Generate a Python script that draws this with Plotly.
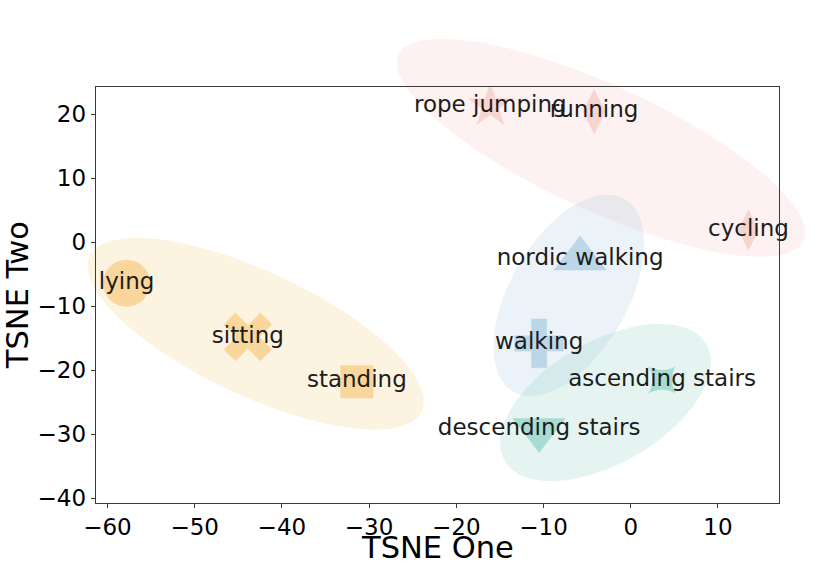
import numpy as np
import plotly.graph_objects as go

# t-SNE embedding of the activity classes
activities = ['lying', 'sitting', 'standing', 'rope jumping', 'running', 'cycling',
              'nordic walking', 'walking', 'ascending stairs', 'descending stairs']
tsne_one = [-57.8, -43.9, -31.4, -16.1, -4.2, 13.5, -5.8, -10.5, 3.6, -10.5]
tsne_two = [-6.4, -14.8, -21.8, 21.3, 20.4, 1.9, -2.6, -15.8, -21.5, -29.3]
activity_group = ['static', 'static', 'static', 'intense', 'intense', 'intense',
                  'walk', 'walk', 'stairs', 'stairs']

# cluster outlines: centre, semi axes and rotation, in data units
groups = ['static', 'intense', 'walk', 'stairs']
ell_cx = [-43.0, -3.4, -7.1, -2.9]
ell_cy = [-14.3, 14.75, -8.3, -25.05]
ell_a = [22.7, 27.5, 16.5, 15.0]
ell_b = [9.0, 9.1, 7.1, 8.5]
ell_angle = [-35.1, -33.7, 70.7, 45.9]

x_ticks = [-60, -50, -40, -30, -20, -10, 0, 10]
y_ticks = [-40, -30, -20, -10, 0, 10, 20]

group_rgb = {
    'static': (248, 202, 126),
    'intense': (245, 200, 193),
    'walk': (168, 202, 224),
    'stairs': (143, 209, 196),
}
symbols = ['circle', 'x', 'square', 'star', 'diamond-tall', 'diamond-tall',
           'triangle-up', 'cross', 'star-square', 'triangle-down']
sizes = [48, 44, 34, 36, 34, 31, 48, 42, 27, 48]

# figure geometry (px)
W, H = 830, 572
L, R, T, B = 95.7, 50.7, 86.7, 69.3
x_range = [-61.35, 17.04]
y_range = [-40.7, 24.3]

# a hidden axis pair spanning the whole page, on the same scale,
# so the ellipses can run past the frame like in the original
kx = (W - L - R) / (x_range[1] - x_range[0])
ky = (H - T - B) / (y_range[1] - y_range[0])
full_x = [x_range[0] - L / kx, x_range[1] + R / kx]
full_y = [y_range[0] - B / ky, y_range[1] + T / ky]

fig = go.Figure()

t = np.linspace(0, 2 * np.pi, 240)
for g, cx, cy, a, b, ang in zip(groups, ell_cx, ell_cy, ell_a, ell_b, ell_angle):
    th = np.deg2rad(ang)
    ex = cx + a * np.cos(th) * np.cos(t) - b * np.sin(th) * np.sin(t)
    ey = cy + a * np.sin(th) * np.cos(t) + b * np.cos(th) * np.sin(t)
    r, gg, bb = group_rgb[g]
    fig.add_trace(go.Scatter(
        x=ex, y=ey, xaxis='x', yaxis='y', mode='lines', fill='toself',
        fillcolor=f'rgba({r},{gg},{bb},0.23)', line=dict(width=0),
        hoverinfo='skip', showlegend=False))

colors = ['rgb(%d,%d,%d)' % group_rgb[g] for g in activity_group]
fig.add_trace(go.Scatter(
    x=tsne_one, y=tsne_two, xaxis='x2', yaxis='y2', mode='markers',
    marker=dict(symbol=symbols, size=sizes, color=colors,
                line=dict(width=1.5, color='rgba(255,255,255,0.45)')),
    hovertext=activities, showlegend=False))
fig.add_trace(go.Scatter(
    x=tsne_one, y=tsne_two, xaxis='x2', yaxis='y2', mode='text',
    text=activities, textposition='middle center', cliponaxis=False,
    textfont=dict(family='DejaVu Sans', size=23, color='#1c1c1c'),
    hoverinfo='skip', showlegend=False))

axis_style = dict(
    showline=True, mirror=True, linecolor='#3a3a3a', linewidth=1,
    ticks='outside', ticklen=4, tickcolor='#3a3a3a', tickwidth=1,
    showgrid=False, zeroline=False, automargin=False,
    tickfont=dict(family='DejaVu Sans', size=23, color='black'),
)

fig.update_layout(
    width=W, height=H,
    margin=dict(l=0, r=0, t=0, b=0),
    paper_bgcolor='white', plot_bgcolor='rgba(0,0,0,0)',
    font=dict(family='DejaVu Sans', color='black'),
    showlegend=False,
    xaxis=dict(domain=[0, 1], range=full_x, visible=False, fixedrange=True),
    yaxis=dict(domain=[0, 1], range=full_y, visible=False, fixedrange=True),
    xaxis2=dict(domain=[L / W, 1 - R / W], range=x_range, anchor='y2',
                tickvals=x_ticks, **axis_style),
    yaxis2=dict(domain=[B / H, 1 - T / H], range=y_range, anchor='x2',
                tickvals=y_ticks,
                title=dict(text='TSNE Two', font=dict(size=30.5), standoff=10),
                **axis_style),
)

# x axis title placed as in the reference (axis standoff is ignored with no margins)
fig.add_annotation(text='TSNE One', xref='x2 domain', x=0.5, yref='paper',
                   y=(H - 547) / H, xanchor='center', yanchor='middle',
                   showarrow=False, font=dict(family='DejaVu Sans', size=30.5, color='black'))

# the page's default body margin would shift the picture by 8px
fig.write_html('out.html', config={'displayModeBar': False},
               post_script="document.body.style.margin='0px';")
